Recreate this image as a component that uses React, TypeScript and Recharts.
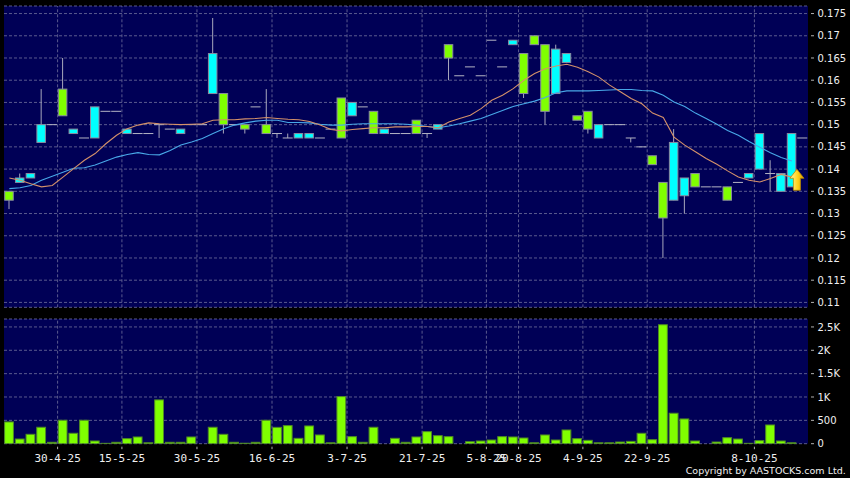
import React from "react";
import {
  ComposedChart, Bar, Line, XAxis, YAxis, CartesianGrid, ReferenceLine, ReferenceDot,
} from "recharts";

// trading-day slots, left to right
const slots = Array.from({ length: 75 }, (_, i) => i);

const opens = [
  0.135, 0.137, 0.138, 0.146, 0.150, 0.158, 0.148, 0.147, 0.147, 0.153,
  0.153, 0.148, 0.148, 0.148, 0.150, 0.149, 0.148, 0.150, 0.150, 0.157,
  0.157, 0.150, 0.150, 0.154, 0.150, 0.148, 0.147, 0.147, 0.147, 0.147,
  0.149, 0.156, 0.152, 0.154, 0.153, 0.148, 0.148, 0.148, 0.151, 0.148,
  0.149, 0.168, 0.161, 0.163, 0.161, 0.169, 0.163, 0.168, 0.166, 0.170,
  0.168, 0.157, 0.164, 0.152, 0.153, 0.147, 0.150, 0.150, 0.147, 0.145,
  0.143, 0.137, 0.133, 0.134, 0.139, 0.136, 0.136, 0.136, 0.137, 0.138,
  0.140, 0.139, 0.135, 0.136, 0.147,
];
const closes = [
  0.133, 0.138, 0.139, 0.150, 0.150, 0.152, 0.149, 0.147, 0.154, 0.153,
  0.153, 0.149, 0.148, 0.148, 0.150, 0.149, 0.149, 0.150, 0.150, 0.166,
  0.150, 0.150, 0.149, 0.154, 0.148, 0.148, 0.147, 0.148, 0.148, 0.147,
  0.149, 0.147, 0.155, 0.154, 0.148, 0.149, 0.148, 0.148, 0.148, 0.148,
  0.150, 0.165, 0.161, 0.163, 0.161, 0.169, 0.163, 0.169, 0.157, 0.168,
  0.153, 0.167, 0.166, 0.151, 0.149, 0.150, 0.150, 0.150, 0.147, 0.145,
  0.141, 0.129, 0.146, 0.138, 0.136, 0.136, 0.136, 0.133, 0.137, 0.139,
  0.148, 0.139, 0.139, 0.148, 0.147,
];
const highs = [
  0.135, 0.139, 0.139, 0.158, 0.150, 0.165, 0.149, 0.147, 0.154, 0.153,
  0.153, 0.149, 0.148, 0.148, 0.150, 0.149, 0.149, 0.150, 0.150, 0.174,
  0.157, 0.150, 0.150, 0.154, 0.158, 0.148, 0.148, 0.148, 0.148, 0.147,
  0.149, 0.156, 0.155, 0.154, 0.153, 0.149, 0.148, 0.148, 0.151, 0.148,
  0.150, 0.168, 0.161, 0.163, 0.161, 0.169, 0.163, 0.169, 0.166, 0.170,
  0.168, 0.168, 0.166, 0.152, 0.153, 0.150, 0.150, 0.150, 0.147, 0.145,
  0.143, 0.137, 0.149, 0.138, 0.139, 0.136, 0.136, 0.136, 0.137, 0.139,
  0.148, 0.142, 0.139, 0.148, 0.147,
];
const lows = [
  0.131, 0.137, 0.138, 0.146, 0.150, 0.152, 0.148, 0.147, 0.147, 0.153,
  0.153, 0.148, 0.148, 0.148, 0.147, 0.149, 0.148, 0.150, 0.150, 0.157,
  0.148, 0.150, 0.148, 0.154, 0.148, 0.147, 0.147, 0.147, 0.147, 0.147,
  0.149, 0.147, 0.152, 0.154, 0.148, 0.148, 0.148, 0.148, 0.148, 0.147,
  0.149, 0.160, 0.161, 0.163, 0.161, 0.169, 0.163, 0.168, 0.156, 0.168,
  0.150, 0.157, 0.164, 0.151, 0.148, 0.147, 0.150, 0.150, 0.146, 0.145,
  0.141, 0.120, 0.133, 0.130, 0.136, 0.136, 0.136, 0.133, 0.137, 0.138,
  0.140, 0.135, 0.135, 0.136, 0.147,
];
// short moving average (orange) and long moving average (blue)
const maShort = [
  0.1380, 0.1375, 0.1367, 0.1360, 0.1363, 0.1382, 0.1401, 0.1420, 0.1435, 0.1457,
  0.1476, 0.1491, 0.1499, 0.1504, 0.1502, 0.1501, 0.1500, 0.1501, 0.1502, 0.1510,
  0.1511, 0.1511, 0.1513, 0.1514, 0.1516, 0.1514, 0.1512, 0.1511, 0.1507, 0.1499,
  0.1489, 0.1486, 0.1489, 0.1491, 0.1493, 0.1493, 0.1495, 0.1495, 0.1496, 0.1496,
  0.1493, 0.1506, 0.1514, 0.1521, 0.1536, 0.1555, 0.1566, 0.1581, 0.1600, 0.1615,
  0.1626, 0.1632, 0.1636, 0.1629, 0.1619, 0.1607, 0.1589, 0.1574, 0.1559, 0.1547,
  0.1526, 0.1516, 0.1472, 0.1454, 0.1439, 0.1424, 0.1411, 0.1396, 0.1382, 0.1375,
  0.1371, 0.1379, 0.1388, 0.1382, null,
];
const maLong = [
  0.1356, 0.1358, 0.1363, 0.1375, 0.1384, 0.1393, 0.1402, 0.1403, 0.1409, 0.1418,
  0.1427, 0.1433, 0.1437, 0.1433, 0.1432, 0.1442, 0.1454, 0.1461, 0.1469, 0.1480,
  0.1491, 0.1499, 0.1504, 0.1508, 0.1510, 0.1510, 0.1505, 0.1505, 0.1504, 0.1501,
  0.1499, 0.1499, 0.1501, 0.1502, 0.1502, 0.1502, 0.1502, 0.1501, 0.1499, 0.1496,
  0.1493, 0.1497, 0.1502, 0.1508, 0.1514, 0.1523, 0.1532, 0.1541, 0.1547, 0.1553,
  0.1561, 0.1572, 0.1576, 0.1576, 0.1576, 0.1577, 0.1578, 0.1579, 0.1579, 0.1577,
  0.1576, 0.1566, 0.1551, 0.1541, 0.1526, 0.1514, 0.1501, 0.1487, 0.1476, 0.1462,
  0.1449, 0.1437, 0.1426, 0.1418, null,
];
const volumes = [
  466, 100, 201, 352, 30, 502, 223, 502, 58, 8,
  30, 108, 144, 20, 938, 30, 30, 144, 0, 352,
  201, 30, 10, 30, 502, 350, 387, 115, 380, 187,
  20, 1009, 151, 30, 352, 0, 115, 30, 144, 258,
  172, 151, 0, 43, 58, 79, 151, 144, 122, 20,
  187, 79, 294, 108, 72, 20, 20, 36, 50, 223,
  86, 2547, 652, 530, 58, 0, 36, 129, 100, 8,
  65, 401, 58, 20, 0,
];

const dateTicks = [5, 11, 18, 25, 32, 39, 45, 48, 54, 60, 70];
const dateLabels = [
  "30-4-25", "15-5-25", "30-5-25", "16-6-25", "3-7-25", "21-7-25",
  "5-8-25", "20-8-25", "4-9-25", "22-9-25", "8-10-25",
];
const priceTicks = [
  0.11, 0.115, 0.12, 0.125, 0.13, 0.135, 0.14, 0.145, 0.15, 0.155, 0.16, 0.165, 0.17, 0.175,
];
const volTicks = [0, 500, 1000, 1500, 2000, 2500];
const volLabels = ["0", "500", "1K", "1.5K", "2K", "2.5K"];

const rows = slots.map(i => ({
  i,
  o: opens[i],
  c: closes[i],
  h: highs[i],
  l: lows[i],
  range: [lows[i], highs[i]],
  maS: maShort[i],
  maL: maLong[i],
  vol: volumes[i],
}));

const PLOT_BG = "#000056";
const GRID = "#5a5a8e";
const LABEL = "#f0f0f0";
const UP = "#00ffff";
const DOWN = "#80ff00";

function Candle(props: any) {
  const { x, y, width, height, payload } = props;
  const { o, c, h, l } = payload;
  const cx = x + width / 2;
  const span = h - l;
  const py = (v: number) => (span > 0 ? y + ((h - v) / span) * height : y + height);
  const bw = width * 0.85;
  const wick = span > 0 ? (
    <line x1={cx} x2={cx} y1={py(h)} y2={py(l)} stroke="#a8a8bc" strokeWidth={1} />
  ) : null;
  if (o === c) {
    return (
      <g>
        {wick}
        <line x1={x} x2={x + width} y1={py(o)} y2={py(o)} stroke="#b4b4c4" strokeWidth={1} />
      </g>
    );
  }
  const top = py(Math.max(o, c));
  const bot = py(Math.min(o, c));
  return (
    <g>
      {wick}
      <rect
        x={cx - bw / 2}
        y={top}
        width={bw}
        height={bot - top}
        fill={c > o ? UP : DOWN}
        stroke="#8a8aa0"
        strokeWidth={1}
      />
    </g>
  );
}

function VolBar(props: any) {
  const { x, y, width, height } = props;
  if (!height || height <= 0) return null;
  const bw = width * 0.88;
  return (
    <rect
      x={x + (width - bw) / 2}
      y={y}
      width={bw}
      height={height}
      fill={DOWN}
      stroke="#4f8a24"
      strokeWidth={1}
    />
  );
}

function UpArrow(props: any) {
  const { cx, cy } = props;
  const x = cx + 5;
  const y = cy;
  const d = `M${x},${y - 10.5} L${x + 7},${y - 1.5} L${x + 3.5},${y - 1.5} L${x + 3.5},${y + 10.5} L${x - 3.5},${y + 10.5} L${x - 3.5},${y - 1.5} L${x - 7},${y - 1.5} Z`;
  return <path d={d} fill="url(#arrowGrad)" stroke="#b98a00" strokeWidth={0.8} />;
}

function rightTick(labels?: string[], values?: number[]) {
  return (p: any) => {
    const { x, y, payload } = p;
    const txt = labels && values ? labels[values.indexOf(payload.value)] : String(payload.value);
    return (
      <g>
        <line x1={x + 3} x2={x + 6} y1={y} y2={y} stroke="#b0b0b0" />
        <text x={x + 9.5} y={y} dy={3.6} fill={LABEL} fontSize={10} fontFamily="DejaVu Sans">
          {txt}
        </text>
      </g>
    );
  };
}

function DateTick(p: any) {
  const { x, y, payload } = p;
  const bx = x - (payload.offset ?? 5.36);
  const label = dateLabels[dateTicks.indexOf(payload.value)];
  return (
    <g>
      <line x1={bx} x2={bx} y1={y + 3} y2={y + 5.5} stroke="#b0b0b0" />
      <text x={bx} y={y + 18.3} textAnchor="middle" fill={LABEL} fontSize={11} fontFamily="DejaVu Sans Mono">
        {label}
      </text>
    </g>
  );
}

export default function App() {
  return (
    <div style={{ position: "absolute", left: 0, top: 0, width: 850, height: 478, background: "#000", overflow: "hidden" }}>
      <div style={{ position: "absolute", left: 0, top: 0 }}>
        <ComposedChart width={850} height={312} data={rows} margin={{ top: 6, right: 0, bottom: 4.7, left: 4 }}>
          <defs>
            <linearGradient id="arrowGrad" x1="0" y1="0" x2="1" y2="0">
              <stop offset="0%" stopColor="#fff6a8" />
              <stop offset="55%" stopColor="#ffd21a" />
              <stop offset="100%" stopColor="#d99a00" />
            </linearGradient>
          </defs>
          <CartesianGrid vertical={false} fill={PLOT_BG} stroke={GRID} strokeDasharray="3 2" />
          <XAxis dataKey="i" hide />
          <YAxis
            orientation="right"
            width={42}
            domain={[0.1089, 0.1767]}
            allowDataOverflow
            ticks={priceTicks}
            interval={0}
            axisLine={false}
            tickLine={false}
            tickSize={0}
            tickMargin={0}
            tick={rightTick()}
          />
          {dateTicks.map(s => (
            <ReferenceLine key={s} x={s} position="start" stroke={GRID} strokeDasharray="3 2" />
          ))}
          <Bar dataKey="range" barSize={10} shape={<Candle />} isAnimationActive={false} />
          <Line dataKey="maL" type="linear" stroke="#48a8e8" strokeWidth={1.1} dot={false} isAnimationActive={false} connectNulls={false} />
          <Line dataKey="maS" type="linear" stroke="#d4916a" strokeWidth={1.1} dot={false} isAnimationActive={false} connectNulls={false} />
          <ReferenceDot x={73} y={0.1376} r={0} shape={UpArrow} />
        </ComposedChart>
      </div>
      <div style={{ position: "absolute", left: 0, top: 312 }}>
        <ComposedChart width={850} height={166} data={rows} margin={{ top: 7, right: 0, bottom: 0, left: 4 }}>
          <CartesianGrid vertical={false} fill={PLOT_BG} stroke={GRID} strokeDasharray="3 2" />
          <XAxis
            dataKey="i"
            height={34.3}
            ticks={dateTicks}
            interval={0}
            axisLine={false}
            tickLine={false}
            tickSize={0}
            tickMargin={0}
            tick={DateTick}
          />
          <YAxis
            orientation="right"
            width={42}
            domain={[0, 2670]}
            allowDataOverflow
            ticks={volTicks}
            interval={0}
            axisLine={false}
            tickLine={false}
            tickSize={0}
            tickMargin={0}
            tick={rightTick(volLabels, volTicks)}
          />
          {dateTicks.map(s => (
            <ReferenceLine key={s} x={s} position="start" stroke={GRID} strokeDasharray="3 2" />
          ))}
          <Bar dataKey="vol" barSize={10} shape={<VolBar />} isAnimationActive={false} />
        </ComposedChart>
      </div>
      <div
        style={{
          position: "absolute",
          right: 4.3,
          top: 465.7,
          fontFamily: "DejaVu Sans",
          fontSize: 9.5,
          lineHeight: "10px",
          color: LABEL,
          whiteSpace: "nowrap",
        }}
      >
        Copyright by AASTOCKS.com Ltd.
      </div>
    </div>
  );
}
